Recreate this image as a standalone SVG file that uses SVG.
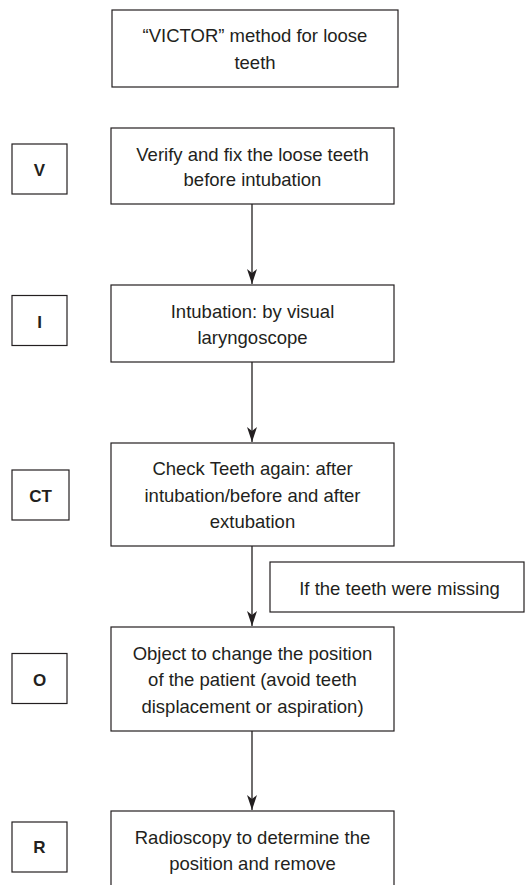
<svg xmlns="http://www.w3.org/2000/svg" width="528" height="885" viewBox="0 0 528 885">
<style>
.box{fill:#fff;stroke:#231f20;stroke-width:1.2}
.t{font-family:"Liberation Sans",Arial,sans-serif;font-size:18.5px;fill:#231f20;text-anchor:middle}
.b{font-family:"Liberation Sans",Arial,sans-serif;font-size:17px;font-weight:bold;fill:#231f20;text-anchor:middle}
.c{stroke:#231f20;stroke-width:1.3;fill:none;marker-end:url(#ah)}
</style>
<defs>
<marker id="ah" viewBox="0 0 15 10" refX="15" refY="5" markerWidth="15" markerHeight="10" markerUnits="userSpaceOnUse" orient="auto">
<path d="M0,0 L15,5 L0,10 L4,5 z" fill="#231f20"/>
</marker>
</defs>
<rect width="528" height="885" fill="#fff"/>
<g id="connectors">
<line class="c" x1="252" y1="204" x2="252" y2="284"/>
<line class="c" x1="252" y1="362" x2="252" y2="442"/>
<line class="c" x1="252" y1="546" x2="252" y2="626"/>
<line class="c" x1="252" y1="731" x2="252" y2="810"/>
</g>
<g id="title">
<rect class="box" x="112" y="10" width="286" height="77"/>
<text class="t" x="255" y="42">“VICTOR” method for loose</text>
<text class="t" x="255" y="68.5">teeth</text>
</g>
<g id="labelV">
<rect class="box" x="12" y="144" width="55" height="50"/>
<text class="b" x="39.5" y="176">V</text>
</g>
<g id="stepV">
<rect class="box" x="111" y="128" width="283" height="76"/>
<text class="t" x="252.5" y="160.5">Verify and fix the loose teeth</text>
<text class="t" x="252.5" y="186">before intubation</text>
</g>
<g id="labelI">
<rect class="box" x="12" y="295.5" width="55" height="50"/>
<text class="b" x="39.5" y="327.5">I</text>
</g>
<g id="stepI">
<rect class="box" x="111" y="285" width="283" height="77"/>
<text class="t" x="252.5" y="317.5">Intubation: by visual</text>
<text class="t" x="252.5" y="344">laryngoscope</text>
</g>
<g id="labelCT">
<rect class="box" x="12" y="470" width="57" height="50"/>
<text class="b" x="40.5" y="502">CT</text>
</g>
<g id="stepCT">
<rect class="box" x="111" y="443" width="283" height="103"/>
<text class="t" x="252.5" y="475">Check Teeth again: after</text>
<text class="t" x="252.5" y="501.7">intubation/before and after</text>
<text class="t" x="252.5" y="528.3">extubation</text>
</g>
<g id="condition">
<rect class="box" x="270" y="562" width="254" height="50"/>
<text class="t" x="399.5" y="594.5">If the teeth were missing</text>
</g>
<g id="labelO">
<rect class="box" x="12" y="653.5" width="55" height="50"/>
<text class="b" x="39.5" y="686">O</text>
</g>
<g id="stepO">
<rect class="box" x="111" y="627" width="283" height="104"/>
<text class="t" x="252.5" y="659.5">Object to change the position</text>
<text class="t" x="252.5" y="686">of the patient (avoid teeth</text>
<text class="t" x="252.5" y="712.5">displacement or aspiration)</text>
</g>
<g id="labelR">
<rect class="box" x="12" y="822" width="55" height="50"/>
<text class="b" x="39.5" y="853">R</text>
</g>
<g id="stepR">
<rect class="box" x="111" y="811" width="283" height="90"/>
<text class="t" x="252.5" y="843.5">Radioscopy to determine the</text>
<text class="t" x="252.5" y="870">position and remove</text>
</g>
</svg>
